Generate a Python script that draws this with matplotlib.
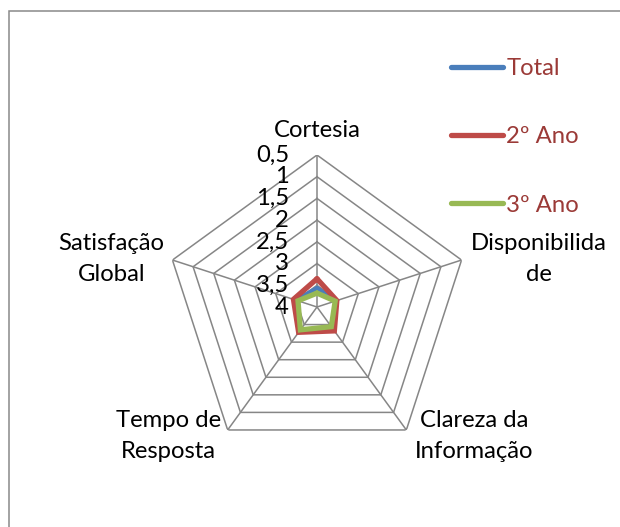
import numpy as np
import matplotlib
matplotlib.use("Agg")
import matplotlib.pyplot as plt
from matplotlib.patches import Rectangle

# categories and series (axis is reversed: 4 at centre)
categories = ["Cortesia", "Disponibilida\nde", "Clareza da\nInformação",
              "Tempo de\nResposta", "Satisfação\nGlobal"]
total = [3.58, 3.54, 3.38, 3.31, 3.50]
ano2 = [3.35, 3.52, 3.32, 3.28, 3.43]
ano3 = [3.68, 3.56, 3.44, 3.35, 3.54]
ring_values = [0.5, 1, 1.5, 2, 2.5, 3, 3.5, 4]
ring_labels = ["0,5", "1", "1,5", "2", "2,5", "3", "3,5", "4"]

plt.rcParams['font.family'] = ['Lato', 'DejaVu Sans']
fs = 17.2

fig = plt.figure(figsize=(6.2, 5.27), dpi=100)
fig.patch.set_facecolor('white')

# chart frame (only left and top edges show in the crop)
fig.patches.append(Rectangle((8.5/620, -0.2), 2, 1.2 - 10.8/527, transform=fig.transFigure,
                             fill=False, edgecolor='#898989', lw=1.1))

cx, cy, R = 317, 307, 152
W, H = 620, 527
ax = fig.add_axes([(cx-R)/W, (H-cy-R)/H, 2*R/W, 2*R/H], projection='polar')
ax.set_theta_offset(np.pi/2)
ax.set_theta_direction(-1)
ax.set_ylim(4, 0.5)
ax.grid(False)
ax.spines['polar'].set_visible(False)
ax.set_xticks([])
ax.set_yticks([])
ax.patch.set_alpha(0)

n = len(categories)
theta = np.linspace(0, 2*np.pi, n, endpoint=False)
th_closed = np.append(theta, theta[0])

grid_c = '#868686'
for v in ring_values[:-1]:
    ax.plot(th_closed, [v]*(n+1), color=grid_c, lw=1.1, zorder=1)
for t in theta:
    ax.plot([t, t], [4, 0.5], color=grid_c, lw=1.1, zorder=1)

series = [("Total", total, '#4A7EBB'), ("2º Ano", ano2, '#BE4B48'), ("3º Ano", ano3, '#98B954')]
for name, vals, col in series:
    ax.plot(th_closed, vals + vals[:1], color=col, lw=3.8, label=name,
            solid_joinstyle='miter', solid_capstyle='round', zorder=3)

# radial tick labels along the top spoke
for v, lab in zip(ring_values, ring_labels):
    ax.annotate(lab, xy=(0, v), xytext=(-28, 0), textcoords='offset pixels',
                ha='right', va='center', fontsize=fs, color='black')

# category labels
offsets = [(0, 25), (77, 1), (68, -6), (-59, -6), (-61, 1)]
for t, lab, off in zip(theta, categories, offsets):
    ax.annotate(lab, xy=(t, 0.5), xytext=off, textcoords='offset pixels',
                ha='center', va='center', fontsize=fs, linespacing=1.62,
                annotation_clip=False)

leg = fig.legend(loc='upper left', bbox_to_anchor=(451/W, 1 - 58/H), frameon=False,
                 fontsize=fs, handlelength=2.17, handletextpad=0.15, labelspacing=1.98,
                 borderpad=0, borderaxespad=0, labelcolor='#9B3A37')

fig.savefig("out.png", dpi=100)
